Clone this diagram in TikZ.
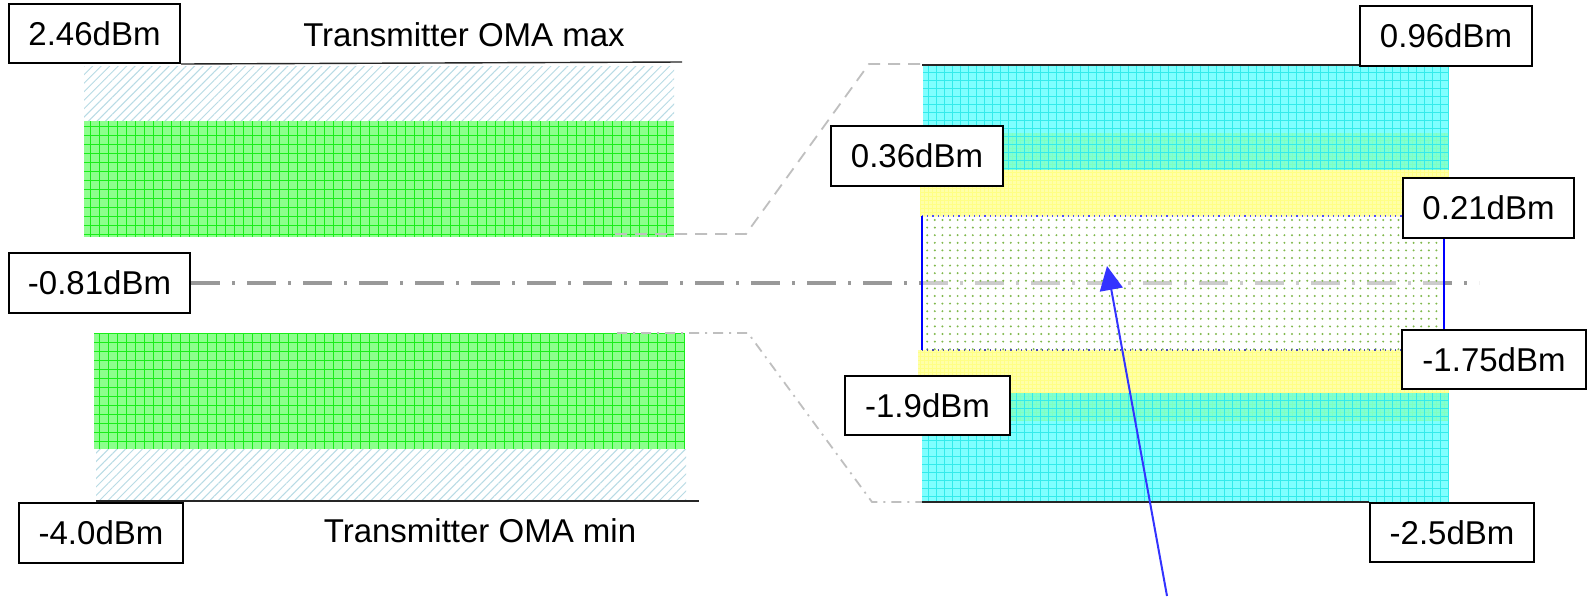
\documentclass[tikz,border=0pt]{standalone}
\usepackage{fontspec}
\setmainfont{Liberation Sans}
\usetikzlibrary{patterns,patterns.meta,arrows.meta}
\definecolor{hatchc}{rgb}{0.72,0.86,0.90}
\definecolor{greenf}{rgb}{0.55,1,0.55}
\definecolor{greenl}{rgb}{0.1,0.93,0.1}
\definecolor{cyanf}{rgb}{0,1,1}
\definecolor{cyanl}{rgb}{0.2,0.92,0.92}
\definecolor{yellowf}{rgb}{1,1,0.66}
\definecolor{yellowl}{rgb}{1,1,0.52}
\definecolor{dotc}{rgb}{0.5,0.72,0.3}
\definecolor{arrowblue}{rgb}{0.2,0.2,1}
\definecolor{midgrey}{rgb}{0.6,0.6,0.6}
\definecolor{lightgrey}{rgb}{0.75,0.75,0.75}
\begin{document}
\begin{tikzpicture}[x=0.5pt,y=-0.5pt,
  lbl/.style={draw=black, line width=1pt, fill=white, inner sep=0pt,
    font=\fontsize{16.5pt}{18pt}\selectfont},
  txt/.style={inner sep=0pt, font=\fontsize{16.5pt}{18pt}\selectfont},
  hatchbox/.style={pattern={Lines[angle=45,distance=3pt,line width=0.5pt]}, pattern color=hatchc},
  greenbox/.style={fill=greenf},
  greengrid/.style={draw=greenl, line width=0.3pt, step=4.5pt},
  cyanbox/.style={fill=cyanf, fill opacity=0.5},
  cyangrid/.style={draw=cyanl, line width=0.25pt, step=4pt},
  yellowbox/.style={fill=yellowf},
  yellowgrid/.style={draw=yellowl, line width=0.25pt, step=2pt},
  dotbox/.style={pattern={Dots[distance=3.8pt,radius=0.55pt]}, pattern color=dotc},
  levelline/.style={draw=black!85, line width=0.7pt},
  centerline/.style={draw=midgrey, line width=1.7pt, dash pattern=on 14.5pt off 6pt on 1.5pt off 6pt},
  zoomtop/.style={draw=lightgrey, line width=0.9pt, dash pattern=on 6pt off 4pt},
  zoombot/.style={draw=lightgrey, line width=0.9pt, dash pattern=on 5pt off 3pt on 1pt off 3pt},
  pointer/.style={draw=arrowblue, line width=1pt, -{Triangle[length=12pt,width=11.5pt]}}
]
\useasboundingbox[fill=white] (0,0) rectangle (1588,600);

% ---- left: transmitter bars ----
\path[hatchbox] (84,66) rectangle (674,121);
\fill[greenbox] (84,121) rectangle (674,237);
\draw[greengrid] (84,121) grid (674,237);

\fill[greenbox] (94,333) rectangle (684,449);
\draw[greengrid] (94,333) grid (684,449);
\path[hatchbox] (96,449) rectangle (686,501);

% ---- right: receiver bars ----
\fill[yellowbox] (920,133) rectangle (1449,216);
\draw[yellowgrid] (920,133) grid (1449,216);
\fill[yellowbox] (918,350) rectangle (1449,420);
\draw[yellowgrid] (918,350) grid (1449,420);

\fill[cyanbox] (923,66) rectangle (1449,170);
\draw[cyangrid] (923,66) grid (1449,170);
\fill[cyanbox] (922,393) rectangle (1449,502);
\draw[cyangrid] (922,393) grid (1449,502);

% ---- boxes ----
\node[lbl, minimum width=85.5pt, minimum height=29.5pt] (b246) at (94.5,33.5) {2.46dBm};
\node[lbl, minimum width=90.5pt, minimum height=30pt] (b081) at (99.5,283) {-0.81dBm};
\node[lbl, minimum width=82pt, minimum height=30pt] (b40) at (101,533) {-4.0dBm};

% center dash-dot line
\coordinate (cend) at (1479,283);
\draw[centerline] (b081.east) -- (cend);

% dotted region
\fill[white, fill opacity=0.5] (922,216) rectangle (1444,350);
\path[dotbox] (922,216) rectangle (1444,350);
\draw[blue!70, line width=0.6pt, dotted] (922,216) -- (1444,216);
\draw[blue!40!gray, line width=0.6pt, dotted] (922,350) -- (1444,350);
\draw[blue, line width=1pt] (922,216) -- (922,350);
\draw[blue, line width=1pt] (1444,216) -- (1444,332);

% level lines
\coordinate (ltopend) at (682,62);
\draw[levelline] (b246.south east) -- (ltopend);
\coordinate (lbotstart) at (96,501);
\coordinate (lbotend) at (699,501);
\draw[levelline] (lbotstart) -- (lbotend);
\coordinate (rtopstart) at (922,65);
\coordinate (rbotstart) at (922,502);

% zoom connectors
\coordinate (zt1) at (615,234);
\coordinate (zt2) at (746,234);
\coordinate (zt3) at (869,64);
\coordinate (zt4) at (922,64);
\draw[zoomtop] (zt1) -- (zt2) -- (zt3) -- (zt4);
\coordinate (zb1) at (617,333);
\coordinate (zb2) at (748,333);
\coordinate (zb3) at (872,502);
\coordinate (zb4) at (922,502);
\draw[zoombot] (zb1) -- (zb2) -- (zb3) -- (zb4);

\node[lbl, minimum width=86pt, minimum height=30pt] (b096) at (1446,36) {0.96dBm};
\node[lbl, minimum width=86pt, minimum height=30pt] (b036) at (917,156) {0.36dBm};
\node[lbl, minimum width=85.5pt, minimum height=30pt] (b021) at (1488.5,208) {0.21dBm};
\node[lbl, minimum width=92pt, minimum height=29.5pt] (b175) at (1494,359.5) {-1.75dBm};
\node[lbl, minimum width=82.5pt, minimum height=29.5pt] (b19) at (927.5,405.5) {-1.9dBm};
\node[lbl, minimum width=82pt, minimum height=29.5pt] (b25) at (1452,532.5) {-2.5dBm};

\draw[levelline] (rtopstart) -- (b096.south west |- rtopstart);
\draw[levelline] (rbotstart) -- (b25.north west |- rbotstart);

% titles
\node[txt, anchor=base] (tmax) at (464,46) {Transmitter OMA max};
\node[txt, anchor=base] (tmin) at (480,542) {Transmitter OMA min};

% pointer arrow
\coordinate (atail) at (1167,596);
\coordinate (atip) at (1107,266);
\draw[pointer] (atail) -- (atip);
\end{tikzpicture}
\end{document}
